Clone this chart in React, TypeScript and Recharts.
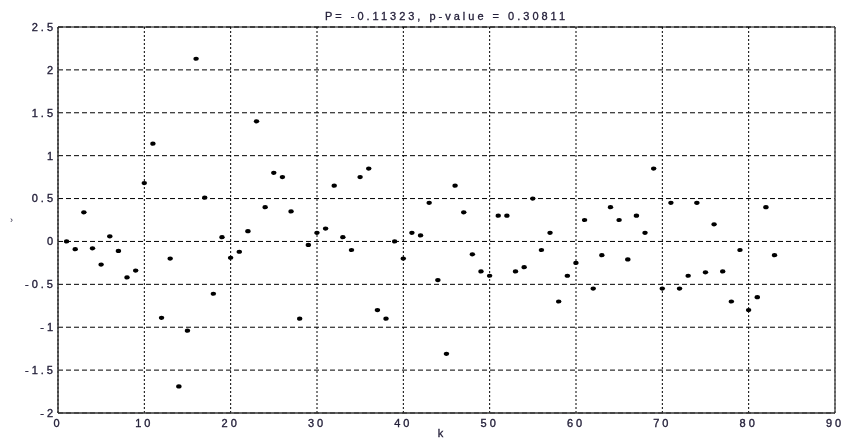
import React from 'react';
import { ScatterChart, Scatter, XAxis, YAxis, CartesianGrid, ReferenceLine, Label } from 'recharts';

const kValues = [
  1, 2, 3, 4, 5, 6, 7, 8, 9, 10,
  11, 12, 13, 14, 15, 16, 17, 18, 19, 20,
  21, 22, 23, 24, 25, 26, 27, 28, 29, 30,
  31, 32, 33, 34, 35, 36, 37, 38, 39, 40,
  41, 42, 43, 44, 45, 46, 47, 48, 49, 50,
  51, 52, 53, 54, 55, 56, 57, 58, 59, 60,
  61, 62, 63, 64, 65, 66, 67, 68, 69, 70,
  71, 72, 73, 74, 75, 76, 77, 78, 79, 80,
  81, 82, 83,
];

const residuals = [
  0.0, -0.09, 0.34, -0.08, -0.27, 0.06, -0.11, -0.42, -0.34, 0.68,
  1.14, -0.89, -0.2, -1.69, -1.04, 2.13, 0.51, -0.61, 0.05, -0.19,
  -0.12, 0.12, 1.4, 0.4, 0.8, 0.75, 0.35, -0.9, -0.04, 0.1,
  0.15, 0.65, 0.05, -0.1, 0.75, 0.85, -0.8, -0.9, 0.0, -0.2,
  0.1, 0.07, 0.45, -0.45, -1.31, 0.65, 0.34, -0.15, -0.35, -0.4,
  0.3, 0.3, -0.35, -0.3, 0.5, -0.1, 0.1, -0.7, -0.4, -0.25,
  0.25, -0.55, -0.16, 0.4, 0.25, -0.21, 0.3, 0.1, 0.85, -0.55,
  0.45, -0.55, -0.4, 0.45, -0.36, 0.2, -0.35, -0.7, -0.1, -0.8,
  -0.65, 0.4, -0.16,
];

const xTicks = [0, 10, 20, 30, 40, 50, 60, 70, 80, 90];
const yTicks = [-2, -1.5, -1, -0.5, 0, 0.5, 1, 1.5, 2, 2.5];
const titleText = 'P= -0.11323, p-value = 0.30811';
const xLabel = 'k';
const yLabel = '›';

const data = kValues.map((k, i) => ({ k, r: residuals[i] }));

const FONT = '"Liberation Sans", Arial, Helvetica, sans-serif';
const TEXT_COLOR = '#24203a';

const tickStyle = {
  fill: TEXT_COLOR,
  stroke: TEXT_COLOR,
  strokeWidth: 0.35,
  fontSize: 11,
  fontFamily: FONT,
  letterSpacing: 3,
};

const DotShape = (props: any) => {
  const { cx, cy } = props;
  if (cx == null || cy == null) return null;
  return <ellipse cx={cx} cy={cy} rx={2.7} ry={2.1} fill="#000" />;
};

export default function App() {
  return (
    <div style={{ position: 'fixed', left: 0, top: 0, width: 844, height: 439 }}>
      <ScatterChart
        width={844}
        height={439}
        margin={{ top: 27, right: 9, left: 18, bottom: 0 }}
      >
        <CartesianGrid horizontal vertical={false} stroke="#000" strokeDasharray="5 3" />
        <CartesianGrid horizontal={false} vertical stroke="#000" strokeDasharray="2 2" />
        <XAxis
          type="number"
          dataKey="k"
          domain={[0, 90]}
          ticks={xTicks}
          interval={0}
          height={26}
          tickLine={false}
          tickSize={0}
          tickMargin={6}
          allowDataOverflow
          axisLine={{ stroke: '#333', strokeWidth: 1.5 }}
          tick={tickStyle}
        >
          <Label value={xLabel} position="insideBottom" offset={2} dx={-6} fill={TEXT_COLOR} stroke={TEXT_COLOR} strokeWidth={0.3} fontSize={11} fontFamily={FONT} />
        </XAxis>
        <YAxis
          type="number"
          dataKey="r"
          domain={[-2, 2.5]}
          ticks={yTicks}
          interval={0}
          width={40}
          tickLine={false}
          tickSize={0}
          tickMargin={2}
          allowDataOverflow
          axisLine={{ stroke: '#333', strokeWidth: 1.5 }}
          tick={tickStyle}
        >
          <Label value={yLabel} position="insideLeft" offset={-8} fill={TEXT_COLOR} fontSize={9} fontFamily={FONT} />
        </YAxis>
        <ReferenceLine y={2.5} stroke="#000" strokeWidth={1}>
          <Label value={titleText} position="top" offset={7} fill={TEXT_COLOR} stroke={TEXT_COLOR} strokeWidth={0.3} fontSize={11} fontFamily={FONT} letterSpacing={3} />
        </ReferenceLine>
        <ReferenceLine x={90} stroke="#555" strokeWidth={1.5} />
        <Scatter data={data} shape={DotShape} isAnimationActive={false} />
      </ScatterChart>
    </div>
  );
}
